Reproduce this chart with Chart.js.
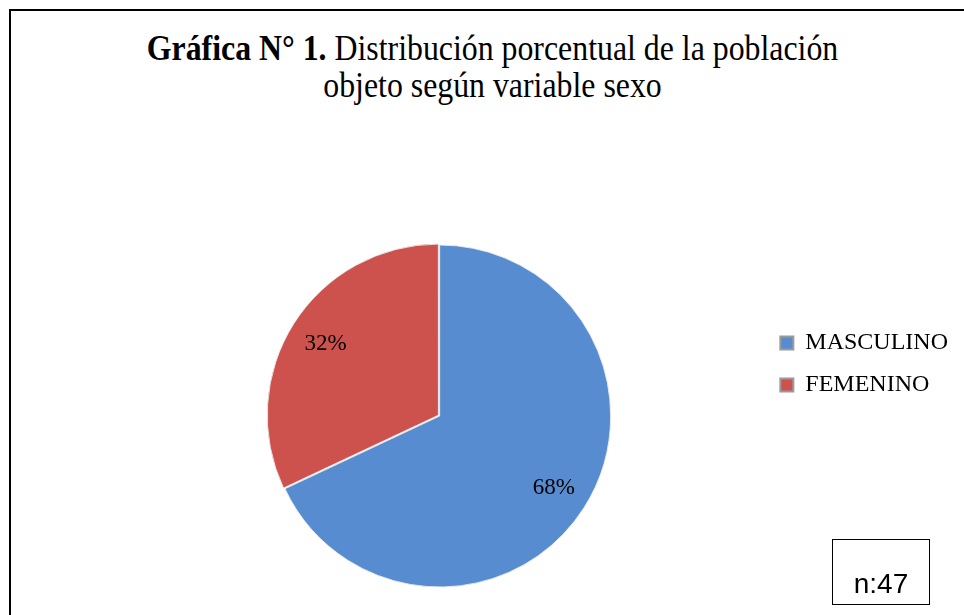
<!DOCTYPE html>
<html>
<head>
<meta charset="utf-8">
<script src="https://cdn.jsdelivr.net/npm/chart.js@4"></script>
<style>
  html, body { margin: 0; padding: 0; background: #fff; overflow: hidden; }
  #wrap { position: relative; width: 964px; height: 615px; }
  #frame { position: absolute; left: 9px; top: 9px; width: 980px; height: 640px; border: 2px solid #000; }
  #title { position: absolute; left: 0; top: 30px; width: 985px; text-align: center;
           font-family: 'Liberation Serif', 'Times New Roman', serif; font-size: 36px; line-height: 37px; color: #000;
           transform: scaleX(0.884); transform-origin: 492.5px 0; white-space: nowrap; }
  #nbox { position: absolute; left: 832px; top: 539px; width: 96px; height: 64px; border: 1.5px solid #000;
          font-family: 'Liberation Sans', Arial, sans-serif; font-size: 28px; text-align: center; line-height: 88px; }
  canvas { position: absolute; left: 0; top: 0; }
</style>
</head>
<body>
<div id="wrap">
  <div id="frame"></div>
  <div id="title"><b>Gráfica N° 1.</b> Distribución porcentual de la población<br>objeto según variable sexo</div>
  <canvas id="myPie" width="964" height="615"></canvas>
  <div id="nbox">n:47</div>
</div>
<script>
const categories = ['MASCULINO', 'FEMENINO'];
const percentages = [68, 32];
const sliceColors = ['#578dd0', '#cd524e'];

// percent text placed out along each slice
const pctLabels = {
  id: 'pctLabels',
  afterDatasetsDraw(chart) {
    const ctx = chart.ctx;
    const meta = chart.getDatasetMeta(0);
    ctx.save();
    ctx.font = "23px 'Liberation Serif'";
    ctx.fillStyle = '#000';
    ctx.textAlign = 'center';
    ctx.textBaseline = 'middle';
    meta.data.forEach((arc, i) => {
      const p = arc.getProps(['x', 'y', 'startAngle', 'endAngle', 'outerRadius'], true);
      const mid = (p.startAngle + p.endAngle) / 2;
      const r = p.outerRadius * 0.79;
      ctx.fillText(percentages[i] + '%', p.x + Math.cos(mid) * r, p.y + Math.sin(mid) * r);
    });
    ctx.restore();
  }
};

const myPie = document.getElementById('myPie');

new Chart(myPie, {
  type: 'pie',
  data: {
    labels: categories,
    datasets: [{
      data: percentages,
      backgroundColor: sliceColors,
      borderColor: 'rgba(235,235,235,0.9)',
      borderWidth: 1,
      offset: [0, 6],
      radius: 171,
      clip: false
    }]
  },
  options: {
    responsive: false,
    devicePixelRatio: 1,
    animation: false,
    layout: {
      padding: { left: 117, right: 6, top: 313, bottom: 96 }
    },
    plugins: {
      tooltip: { enabled: false },
      legend: {
        position: 'right',
        align: 'start',
        labels: {
          boxWidth: 13,
          boxHeight: 13,
          padding: 18,
          color: '#000',
          font: { family: "'Liberation Serif'", size: 24 },
          generateLabels(chart) {
            const items = Chart.overrides.pie.plugins.legend.labels.generateLabels(chart);
            items.forEach(it => { it.strokeStyle = '#9a9a9a'; it.lineWidth = 2; });
            return items;
          }
        }
      }
    }
  },
  plugins: [pctLabels]
});
</script>
</body>
</html>
